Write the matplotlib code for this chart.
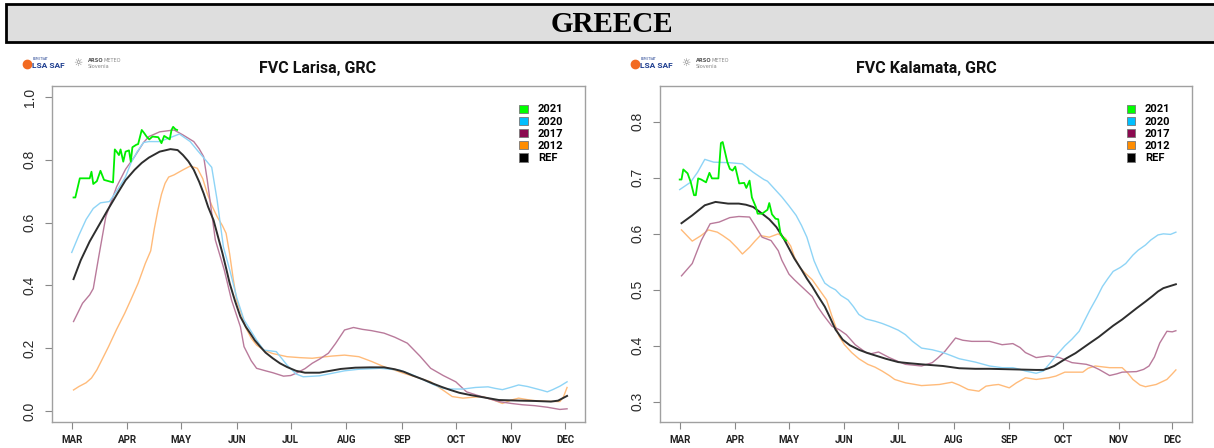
import matplotlib
matplotlib.use("Agg")
import matplotlib.pyplot as plt
from matplotlib.patches import Patch, Rectangle
from matplotlib.lines import Line2D

# month starts (day of year) on the x axis
month_days = [60, 91, 121, 152, 182, 213, 244, 274, 305, 335]
month_labels = ["MAR", "APR", "MAY", "JUN", "JUL", "AUG", "SEP", "OCT", "NOV", "DEC"]

# ---- Larisa ----
lar_days_2021 = [61, 62, 64.5, 70, 71, 72, 74, 76, 78, 83, 84, 85, 86.3, 87.2, 88.7, 90, 91.9, 92.9, 93.8,
                 96, 97, 99, 100.5, 101.7, 103.2, 105, 108.2, 110, 111.5, 114.6, 115.6, 116.5, 117.8, 118.7]
lar_fvc_2021 = [0.68, 0.68, 0.741, 0.741, 0.762, 0.723, 0.732, 0.765, 0.736, 0.728, 0.833, 0.826, 0.815, 0.833,
                0.794, 0.826, 0.83, 0.794, 0.84, 0.848, 0.85, 0.895, 0.884, 0.874, 0.865, 0.874, 0.872, 0.853,
                0.876, 0.865, 0.895, 0.905, 0.897, 0.895]

lar_days_2020 = [60, 64, 68, 72, 76, 81, 85, 90, 93, 96.5, 100, 103, 109, 115, 120, 126, 130, 133, 138, 141,
                 144.5, 148, 152, 156, 163, 167, 170, 174, 180, 185, 189, 198, 205, 212, 220, 232, 243, 250,
                 256, 262, 267, 272, 278, 285, 292, 296, 300, 305, 309, 314, 318, 322, 325, 328, 332, 336]
lar_fvc_2020 = [0.505, 0.56, 0.61, 0.645, 0.663, 0.667, 0.70, 0.746, 0.79, 0.826, 0.855, 0.858, 0.858, 0.871,
                0.882, 0.858, 0.83, 0.81, 0.776, 0.672, 0.523, 0.45, 0.36, 0.29, 0.226, 0.194, 0.192, 0.189,
                0.146, 0.118, 0.109, 0.112, 0.12, 0.128, 0.133, 0.136, 0.13, 0.115, 0.099, 0.083, 0.072, 0.07,
                0.07, 0.075, 0.077, 0.072, 0.068, 0.076, 0.083, 0.078, 0.072, 0.066, 0.061, 0.068, 0.079, 0.093]

lar_days_2017 = [61, 66, 70, 72, 75, 79, 85, 90, 95, 100, 103, 109, 117, 122, 128, 131, 133.5, 135.5, 138,
                 140, 145, 149, 154, 156, 160, 163, 168, 172, 178, 182, 185, 190, 194, 198, 203, 207, 212,
                 217, 222, 227, 234, 240, 247, 254, 260, 267, 274, 280, 286, 292, 298, 305, 311, 318, 325,
                 332, 336]
lar_fvc_2017 = [0.285, 0.343, 0.37, 0.39, 0.49, 0.619, 0.714, 0.77, 0.81, 0.855, 0.874, 0.889, 0.895, 0.879,
                0.858, 0.835, 0.81, 0.736, 0.63, 0.545, 0.449, 0.354, 0.268, 0.205, 0.16, 0.136, 0.128, 0.122,
                0.111, 0.113, 0.12, 0.135, 0.152, 0.165, 0.184, 0.215, 0.258, 0.266, 0.26, 0.256, 0.248, 0.235,
                0.216, 0.175, 0.136, 0.113, 0.093, 0.061, 0.05, 0.04, 0.03, 0.024, 0.02, 0.017, 0.012, 0.005,
                0.007]

lar_days_2012 = [61, 64, 68, 71, 74, 77, 80.5, 85, 89.5, 93, 97, 101, 104, 106, 108, 110, 112, 114, 117, 122,
                 126, 130, 133, 135.5, 138, 141, 144, 146, 148, 150, 152, 154, 157, 160, 163, 167, 172, 180,
                 187, 194, 200, 205, 212, 220, 227, 234, 240, 245, 252, 260, 266, 272, 278, 284, 289, 295,
                 300, 305, 309, 314, 318, 325, 332, 334, 336]
lar_fvc_2012 = [0.067, 0.078, 0.09, 0.105, 0.131, 0.165, 0.205, 0.26, 0.311, 0.355, 0.407, 0.47, 0.51, 0.58,
                0.64, 0.69, 0.725, 0.745, 0.752, 0.768, 0.78, 0.773, 0.74, 0.693, 0.655, 0.619, 0.59, 0.566,
                0.50, 0.42, 0.35, 0.32, 0.265, 0.232, 0.21, 0.194, 0.183, 0.173, 0.17, 0.168, 0.172, 0.175,
                0.178, 0.173, 0.158, 0.141, 0.13, 0.12, 0.108, 0.093, 0.07, 0.046, 0.041, 0.044, 0.046, 0.035,
                0.024, 0.035, 0.041, 0.036, 0.033, 0.031, 0.03, 0.045, 0.075]

lar_days_ref = [61, 65, 70, 76, 80, 85.5, 90, 95, 99, 103, 109, 115, 119, 122, 125, 128, 131, 133.5, 136,
                139, 141.5, 144, 146, 148, 151, 154, 157, 159.5, 162, 165, 168, 172, 176, 180, 185, 190, 198,
                204, 210, 218, 226, 234, 240, 245, 250, 256, 261, 266, 271, 276, 282, 287, 293, 298, 304, 310,
                318, 327, 331, 336]
lar_fvc_ref = [0.42, 0.48, 0.54, 0.60, 0.64, 0.693, 0.735, 0.768, 0.79, 0.807, 0.826, 0.834, 0.831, 0.815,
               0.795, 0.768, 0.73, 0.693, 0.65, 0.608, 0.555, 0.502, 0.455, 0.407, 0.35, 0.30, 0.268, 0.247,
               0.225, 0.205, 0.186, 0.168, 0.152, 0.14, 0.128, 0.122, 0.122, 0.128, 0.134, 0.138, 0.139, 0.139,
               0.133, 0.125, 0.113, 0.10, 0.088, 0.077, 0.067, 0.058, 0.051, 0.046, 0.04, 0.035, 0.034, 0.033,
               0.032, 0.03, 0.033, 0.048]

# ---- Kalamata ----
kal_days_2021 = [60, 61, 62, 64.4, 66.2, 68, 69, 70.3, 72, 74.7, 76.6, 78, 81.6, 83, 84, 86.6, 88, 89.5, 91,
                 93.2, 96, 97.2, 99, 100.3, 102.5, 103.5, 106, 109, 110, 111.5, 113.5, 115, 116.3, 117.6, 119.4]
kal_fvc_2021 = [0.697, 0.697, 0.715, 0.708, 0.692, 0.669, 0.669, 0.699, 0.697, 0.692, 0.709, 0.699, 0.699,
                0.762, 0.764, 0.728, 0.716, 0.713, 0.72, 0.69, 0.691, 0.682, 0.695, 0.665, 0.648, 0.636, 0.636,
                0.643, 0.655, 0.635, 0.627, 0.626, 0.60, 0.593, 0.588]

kal_days_2020 = [60, 66, 70, 74, 79, 88, 95, 101, 107, 109, 113, 117, 121, 125, 128, 131, 135, 138, 141, 144,
                 147, 150, 154, 157, 160, 164, 169, 173, 177, 182, 186, 190, 195, 201, 207, 212, 216, 225, 233,
                 240, 246, 250, 253, 259, 263, 267, 270, 275, 279, 283, 286, 289, 293, 296, 299, 302, 306, 309,
                 313, 316, 320, 323, 327, 330, 334, 337]
kal_fvc_2020 = [0.679, 0.692, 0.71, 0.733, 0.728, 0.727, 0.725, 0.71, 0.697, 0.694, 0.68, 0.666, 0.65, 0.633,
                0.615, 0.594, 0.552, 0.53, 0.512, 0.505, 0.50, 0.49, 0.482, 0.47, 0.456, 0.448, 0.444, 0.44,
                0.435, 0.428, 0.42, 0.408, 0.396, 0.393, 0.388, 0.382, 0.377, 0.371, 0.364, 0.361, 0.361, 0.358,
                0.355, 0.351, 0.355, 0.37, 0.382, 0.40, 0.412, 0.426, 0.445, 0.464, 0.487, 0.506, 0.52, 0.533,
                0.54, 0.547, 0.562, 0.571, 0.58, 0.589, 0.598, 0.60, 0.599, 0.603]

kal_days_2017 = [61, 67, 72, 77, 82, 88, 93, 99, 102, 106, 111, 115, 117, 121, 124, 128, 134, 137, 140, 145,
                 149, 153, 158, 164, 167, 171, 177, 182, 186, 195, 201, 204, 208, 214, 218, 223, 233, 240, 246,
                 250, 253, 259, 266, 272, 279, 287, 290, 294, 300, 304, 307, 315, 319, 322, 325, 328, 332, 335,
                 337]
kal_fvc_2017 = [0.525, 0.547, 0.588, 0.618, 0.621, 0.629, 0.631, 0.63, 0.615, 0.594, 0.588, 0.57, 0.553,
                0.528, 0.518, 0.506, 0.488, 0.47, 0.456, 0.435, 0.429, 0.42, 0.402, 0.388, 0.386, 0.389, 0.379,
                0.372, 0.367, 0.364, 0.37, 0.378, 0.39, 0.414, 0.41, 0.408, 0.408, 0.402, 0.404, 0.397, 0.388,
                0.379, 0.382, 0.379, 0.37, 0.367, 0.364, 0.358, 0.347, 0.35, 0.353, 0.354, 0.358, 0.364, 0.38,
                0.405, 0.426, 0.425, 0.427]

kal_days_2012 = [61, 64, 67, 72, 76, 81, 84, 88, 92, 95, 99, 102, 105, 110, 115, 119, 122, 124, 127, 130, 134,
                 138, 142, 145, 147, 149, 152, 156, 160, 165, 169, 173, 177, 180, 186, 195, 200, 205, 212, 216,
                 221, 227, 231, 235, 238, 244, 248, 253, 259, 266, 270, 275, 285, 288, 292, 300, 307, 310, 313,
                 317, 320, 326, 332, 335, 337]
kal_fvc_2012 = [0.607, 0.597, 0.587, 0.597, 0.607, 0.603, 0.597, 0.588, 0.575, 0.564, 0.576, 0.587, 0.597,
                0.594, 0.60, 0.592, 0.578, 0.559, 0.54, 0.53, 0.518, 0.50, 0.482, 0.453, 0.435, 0.417, 0.402,
                0.388, 0.377, 0.367, 0.362, 0.355, 0.347, 0.34, 0.334, 0.329, 0.33, 0.331, 0.335, 0.33, 0.322,
                0.319, 0.328, 0.33, 0.331, 0.325, 0.334, 0.343, 0.34, 0.343, 0.346, 0.353, 0.353, 0.36, 0.364,
                0.361, 0.361, 0.352, 0.34, 0.33, 0.327, 0.331, 0.34, 0.35, 0.357]

kal_days_ref = [61, 67, 74, 80, 87, 93, 97, 101, 106, 110, 114, 118, 121, 124, 128, 131, 134, 137, 141, 144,
                147, 151, 155, 160, 165, 169, 175, 182, 188, 195, 207, 216, 225, 233, 246, 259, 263, 266, 269,
                272, 276, 281, 285, 289, 294, 298, 302, 307, 311, 315, 320, 324, 327, 330, 334, 337]
kal_fvc_ref = [0.619, 0.633, 0.651, 0.657, 0.654, 0.654, 0.652, 0.648, 0.636, 0.626, 0.612, 0.592, 0.574,
               0.556, 0.536, 0.52, 0.506, 0.49, 0.47, 0.45, 0.429, 0.411, 0.401, 0.393, 0.387, 0.383, 0.377,
               0.371, 0.369, 0.367, 0.364, 0.36, 0.359, 0.359, 0.358, 0.357, 0.357, 0.36, 0.364, 0.37, 0.378,
               0.387, 0.396, 0.405, 0.416, 0.426, 0.436, 0.447, 0.457, 0.467, 0.479, 0.489, 0.497, 0.503,
               0.507, 0.51]

legend_labels = ["2021", "2020", "2017", "2012", "REF"]
legend_colors = ["#00ff00", "#00bfff", "#8b0a50", "#ff8c00", "#000000"]
line_colors = {"2021": "#00ee00", "2020": "#8ed4f6", "2017": "#b97a9b", "2012": "#ffbb7a", "REF": "#2e2e2e"}
line_widths = {"2021": 1.3, "2020": 1.0, "2017": 1.0, "2012": 1.0, "REF": 1.4}

W, H = 1214, 448
fig = plt.figure(figsize=(W / 100, H / 100), dpi=100)


def px_box(x0, y0, x1, y1):
    return [x0 / W, 1 - y1 / H, (x1 - x0) / W, (y1 - y0) / H]


# header bar
fig.add_artist(Rectangle((6 / W, 1 - 42 / H), 1.0, 38 / H, transform=fig.transFigure,
                         facecolor="#dedede", edgecolor="black", lw=2))
fig.text(612 / W, 1 - 24 / H, "GREECE", ha="center", va="center", fontsize=21,
         fontweight="bold", family="Liberation Serif")


def logo(x):
    # small provider logos above each panel
    fig.add_artist(Line2D([(x + 5) / W], [1 - 64 / H], marker="o", ms=6, color="#f26a21",
                          transform=fig.transFigure))
    fig.text((x + 11) / W, 1 - 58.5 / H, "EUMETSAT", fontsize=2.2, color="#1d3d8f", va="center")
    fig.text((x + 10) / W, 1 - 65.5 / H, "LSA SAF", fontsize=6, fontweight="bold", color="#1d3d8f",
             va="center", family="Roboto")
    fig.text((x + 51) / W, 1 - 63 / H, "\u263c", fontsize=7.5, color="#777777", va="center")
    fig.text((x + 66) / W, 1 - 60 / H, "ARSO", fontsize=3.6, fontweight="bold", color="#555555", va="center")
    fig.text((x + 81) / W, 1 - 60 / H, "METEO", fontsize=3.6, color="#888888", va="center")
    fig.text((x + 66) / W, 1 - 67 / H, "Slovenia", fontsize=3.6, color="#888888", va="center")


def panel(box, title, series, ylim, yticks, title_x):
    ax = fig.add_axes(px_box(*box))
    for name in ["2012", "2017", "2020", "REF", "2021"]:
        d, v = series[name]
        ax.plot(d, v, color=line_colors[name], lw=line_widths[name], zorder=3)
    ax.set_xlim(49, 346)
    ax.set_ylim(*ylim)
    ax.set_xticks(month_days)
    ax.set_xticklabels(month_labels, fontsize=7, fontweight="bold", family="Roboto", color="#222222")
    ax.set_yticks(yticks)
    ax.set_yticklabels([f"{t:.1f}" for t in yticks], fontsize=10, family="Liberation Sans",
                       color="#2a2a2a", rotation=90, va="center")
    ax.tick_params(axis="x", length=5, width=0.8, color="#888888", pad=4)
    ax.tick_params(axis="y", length=5, width=0.8, color="#888888", pad=6)
    for s in ax.spines.values():
        s.set_color("#a0a0a0")
        s.set_linewidth(1)
    fig.text(title_x / W, 1 - 68 / H, title, ha="center", va="center", fontsize=11.5,
             fontweight="bold", family="Roboto", color="#111111")
    handles = [Patch(facecolor=c, edgecolor="#777777", linewidth=0.6) for c in legend_colors]
    ax.legend(handles, legend_labels, loc="upper left", bbox_to_anchor=(0.877, 0.945),
              frameon=False, handlelength=0.75, handleheight=0.75, handletextpad=0.9,
              labelspacing=0.2, borderpad=0, borderaxespad=0,
              prop={"family": "Roboto", "weight": "bold", "size": 8})
    return ax


panel((52, 86, 585, 422), "FVC Larisa, GRC",
      {"2021": (lar_days_2021, lar_fvc_2021), "2020": (lar_days_2020, lar_fvc_2020),
       "2017": (lar_days_2017, lar_fvc_2017), "2012": (lar_days_2012, lar_fvc_2012),
       "REF": (lar_days_ref, lar_fvc_ref)},
      (-0.035, 1.035), [0.0, 0.2, 0.4, 0.6, 0.8, 1.0], 318)
logo(22)

panel((660, 86, 1192, 422), "FVC Kalamata, GRC",
      {"2021": (kal_days_2021, kal_fvc_2021), "2020": (kal_days_2020, kal_fvc_2020),
       "2017": (kal_days_2017, kal_fvc_2017), "2012": (kal_days_2012, kal_fvc_2012),
       "REF": (kal_days_ref, kal_fvc_ref)},
      (0.264, 0.864), [0.3, 0.4, 0.5, 0.6, 0.7, 0.8], 926)
logo(630)

fig.savefig("out.png", dpi=100)
